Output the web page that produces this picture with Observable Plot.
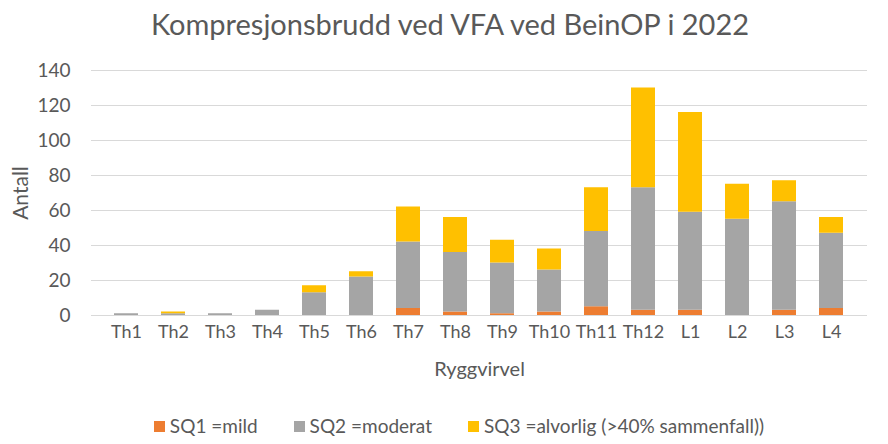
<!DOCTYPE html>
<html>
<head>
<meta charset="utf-8">
<script src="https://cdn.jsdelivr.net/npm/d3@7"></script>
<script src="https://cdn.jsdelivr.net/npm/@observablehq/plot@0.6"></script>
<style>
  html, body { margin: 0; padding: 0; background: #fff; }
  body { width: 888px; height: 444px; overflow: hidden; font-family: Lato, "Open Sans", sans-serif; color: #595959; }
  #title { height: 50px; line-height: 48px; text-align: center; font-size: 29px; color: #595959; padding-left: 12px; }
  #legend { display: flex; justify-content: center; gap: 36px; font-size: 19px; line-height: 22px; color: #595959; margin-top: 20px; padding-left: 30px; }
  #legend span.sw { display: inline-block; width: 11px; height: 11px; margin-right: 5px; vertical-align: 1px; }
</style>
</head>
<body>
<div id="title">Kompresjonsbrudd ved VFA ved BeinOP i 2022</div>
<div id="chart"></div>
<div id="legend"></div>
<script>
const categories = ["Th1","Th2","Th3","Th4","Th5","Th6","Th7","Th8","Th9","Th10","Th11","Th12","L1","L2","L3","L4"];
const seriesNames = ["SQ1 =mild", "SQ2 =moderat", "SQ3 =alvorlig (>40% sammenfall))"];
const sq1 = [0, 0, 0, 0, 0, 0, 4, 2, 1, 2, 5, 3, 3, 0, 3, 4];
const sq2 = [1, 1, 1, 3, 13, 22, 38, 34, 29, 24, 43, 70, 56, 55, 62, 43];
const sq3 = [0, 1, 0, 0, 4, 3, 20, 20, 13, 12, 25, 57, 57, 20, 12, 9];
const colors = ["#ED7D31", "#A5A5A5", "#FFC000"];
const yTicks = [0, 20, 40, 60, 80, 100, 120, 140];

const values = [sq1, sq2, sq3];
const data = [];
seriesNames.forEach((s, si) => {
  categories.forEach((c, ci) => {
    data.push({cat: c, series: s, value: values[si][ci]});
  });
});

const chart = Plot.plot({
  width: 888,
  height: 345,
  marginLeft: 91,
  marginRight: 21,
  marginTop: 20,
  marginBottom: 80,
  style: {fontFamily: "Lato, 'Open Sans', sans-serif", fontSize: "18px", color: "#595959"},
  x: {domain: categories, padding: 0.48},
  y: {domain: [0, 140]},
  color: {domain: seriesNames, range: colors},
  marks: [
    Plot.gridY(yTicks, {stroke: "#D9D9D9", strokeOpacity: 1, strokeWidth: 1}),
    Plot.barY(data, {x: "cat", y: "value", fill: "series", order: seriesNames}),
    Plot.axisY(yTicks, {tickSize: 0, tickPadding: 21, label: null, fontSize: 19, fill: "#595959"}),
    Plot.axisY({tickSize: 0, ticks: [], label: "Antall", labelAnchor: "center", labelOffset: 78, labelArrow: "none", fontSize: 21, fill: "#595959"}),
    Plot.axisX({tickSize: 0, tickPadding: 10, label: null, fontSize: 18, fill: "#595959"}),
    Plot.axisX({tickSize: 0, ticks: [], label: "Ryggvirvel", labelAnchor: "center", labelOffset: 60, labelArrow: "none", fontSize: 20, fill: "#595959"})
  ]
});
document.getElementById("chart").appendChild(chart);

const legend = document.getElementById("legend");
seriesNames.forEach((s, i) => {
  const item = document.createElement("div");
  const sw = document.createElement("span");
  sw.className = "sw";
  sw.style.background = colors[i];
  item.appendChild(sw);
  item.appendChild(document.createTextNode(s));
  legend.appendChild(item);
});
</script>
</body>
</html>
